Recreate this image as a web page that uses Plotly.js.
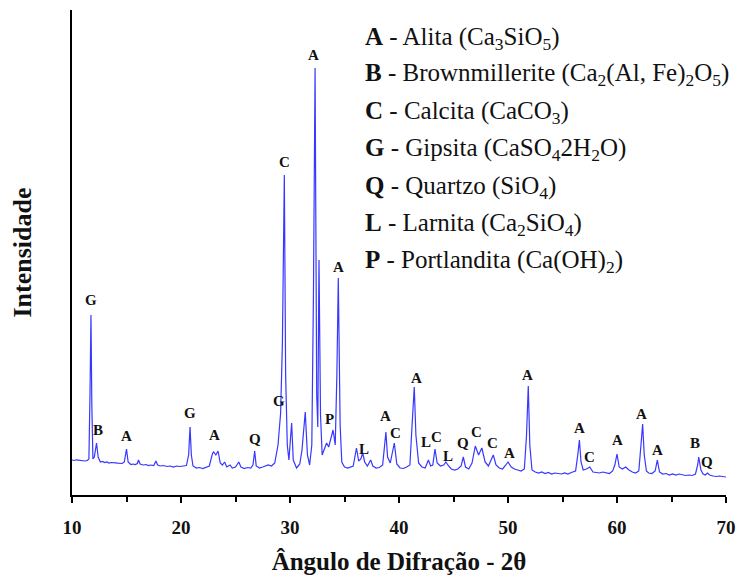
<!DOCTYPE html>
<html>
<head>
<meta charset="utf-8">
<script src="https://cdn.plot.ly/plotly-3.0.1.min.js"></script>
<style>html,body{margin:0;padding:0;background:#fff;}#chart{width:736px;height:580px;}</style>
</head>
<body>
<div id="chart"></div>
<script>
// 2θ (degrees)
const twoTheta = [
10.0,10.2,10.4,10.6,10.8,11.0,11.2,11.4,11.55,11.65,11.74,11.82,11.92,12.05,12.25,12.4,12.6,12.8,13.0,13.2,13.4,13.6,13.8,14.0,14.2,14.4,14.6,14.8,15.0,15.15,15.4,15.6,15.8,16.0,16.1,16.25,16.5,16.8,17.0,17.2,17.5,17.7,17.85,18.1,18.4,18.7,19.0,19.3,19.6,19.9,20.2,20.5,20.7,20.83,20.95,21.1,21.4,21.7,22.0,22.3,22.6,22.9,23.0,23.2,23.4,23.6,23.8,24.0,24.2,24.5,24.7,25.0,25.3,25.5,25.8,26.1,26.4,26.6,26.76,26.9,27.2,27.5,27.8,28.0,28.3,28.6,28.9,29.14,29.3,29.48,29.6,29.75,29.9,30.15,30.3,30.6,30.9,31.1,31.4,31.6,31.8,32.0,32.15,32.3,32.45,32.55,32.66,32.8,32.95,33.1,33.36,33.55,33.75,33.95,34.15,34.3,34.43,34.6,34.75,35.0,35.3,35.6,35.8,36.1,36.3,36.5,36.67,36.85,37.1,37.4,37.6,37.9,38.2,38.5,38.8,38.95,39.2,39.57,39.8,40.1,40.4,40.7,41.0,41.2,41.4,41.55,41.8,42.1,42.4,42.7,42.9,43.1,43.3,43.5,43.8,44.1,44.3,44.55,44.8,45.1,45.4,45.7,45.9,46.1,46.4,46.7,47.0,47.3,47.6,47.9,48.2,48.65,48.9,49.2,49.5,49.8,50.0,50.3,50.6,50.9,51.2,51.5,51.7,51.86,52.0,52.2,52.5,52.8,53.1,53.4,53.7,54.0,54.3,54.6,54.9,55.2,55.5,55.8,56.2,56.4,56.55,56.7,56.9,57.2,57.5,57.8,58.1,58.4,58.7,59.0,59.3,59.6,59.8,60.0,60.2,60.5,60.8,61.1,61.4,61.7,62.0,62.2,62.35,62.5,62.7,62.9,63.2,63.5,63.7,63.9,64.2,64.5,64.8,65.1,65.4,65.7,66.0,66.3,66.6,66.9,67.2,67.4,67.5,67.7,67.9,68.1,68.3,68.5,68.8,69.1,69.4,69.7,70.0
];
// Intensity (a.u.)
const intensity = [
350,345,352,348,350,345,340,345,360,1000,1800,900,360,380,520,380,330,335,325,330,320,325,320,322,318,320,315,330,460,330,305,310,305,315,350,310,300,305,295,300,295,340,300,290,295,285,290,280,290,285,290,295,400,680,400,290,270,275,265,275,290,420,430,400,440,320,300,330,280,300,270,280,330,280,265,275,270,300,440,290,270,280,290,300,290,320,500,820,1500,3200,1200,500,350,720,350,270,310,450,830,400,300,500,2000,4270,1000,680,2350,800,400,440,520,480,580,650,500,1200,2170,700,330,280,270,280,290,470,340,360,420,330,290,350,290,270,275,300,630,380,320,520,310,270,265,280,300,700,1080,600,320,280,270,350,290,300,460,320,290,300,330,290,260,250,260,290,380,280,260,320,490,400,470,330,290,400,300,270,260,300,330,280,260,250,240,260,600,1090,500,250,230,220,230,215,225,210,220,215,210,220,210,225,240,400,550,330,250,260,280,230,225,220,230,220,215,240,300,410,280,260,280,250,230,220,240,500,710,400,240,220,215,240,350,230,210,215,200,210,200,210,200,195,200,195,210,300,380,250,210,200,220,200,190,185,190,185,180
];
// Peak labels
const peakLetters = ["G","B","A","G","A","Q","G","C","A","A","P","L","A","C","A","L","C","L","Q","C","C","A","A","A","C","A","A","A","B","Q"];
const peakX = [11.74,12.41,15.02,20.83,23.06,26.79,28.99,29.48,32.2,34.43,33.62,36.83,38.76,39.72,41.56,42.48,43.46,44.47,45.84,47.13,48.6,50.18,51.81,56.54,57.46,60.03,62.27,63.73,67.16,68.23];
const peakY = [1950,650,590,820,600,560,940,3330,4400,2280,760,460,790,620,1170,533,577,390,517,633,517,417,1200,667,377,550,807,450,523,333];
// Phase legend
const phaseKeys = ["A","B","C","G","Q","L","P"];
const phaseNames = [
  "Alita (Ca<sub>3</sub>SiO<sub>5</sub>)",
  "Brownmillerite (Ca<sub>2</sub>(Al, Fe)<sub>2</sub>O<sub>5</sub>)",
  "Calcita (CaCO<sub>3</sub>)",
  "Gipsita (CaSO<sub>4</sub>2H<sub>2</sub>O)",
  "Quartzo (SiO<sub>4</sub>)",
  "Larnita (Ca<sub>2</sub>SiO<sub>4</sub>)",
  "Portlandita (Ca(OH)<sub>2</sub>)"
];
const xTicks = [10,20,30,40,50,60,70];

const serif = "Times New Roman, Liberation Serif, serif";
const annotations = [];
peakLetters.forEach((t,i)=>{
  annotations.push({x:peakX[i], y:peakY[i], xref:'x', yref:'y', text:'<b>'+t+'</b>', showarrow:false,
    font:{family:serif, size:15, color:'#111'}, xanchor:'center', yanchor:'middle'});
});
const legY = [0.942,0.866,0.788,0.713,0.633,0.558,0.482];
phaseKeys.forEach((k,i)=>{
  annotations.push({x:0.445, y:legY[i], xref:'paper', yref:'paper', text:'<b>'+k+'</b> - '+phaseNames[i],
    showarrow:false, xanchor:'left', yanchor:'middle', align:'left', font:{family:serif, size:25, color:'#111'}});
});

Plotly.newPlot('chart', [{
  x: twoTheta, y: intensity, type:'scatter', mode:'lines',
  line:{color:'rgb(55,55,255)', width:1.2}, hoverinfo:'skip'
}], {
  width:736, height:580,
  margin:{l:72, r:10, t:10, b:85},
  paper_bgcolor:'#fff', plot_bgcolor:'#fff',
  showlegend:false,
  xaxis:{
    range:[10,70], tickvals:xTicks, ticktext:xTicks.map(String),
    showline:true, linecolor:'#000', linewidth:2, mirror:false,
    ticks:'outside', ticklen:6, tickwidth:2, tickcolor:'#000',
    ticklabelstandoff:8,
    minor:{tickvals:[15,25,35,45,55,65], ticks:'outside', ticklen:5, tickwidth:2, tickcolor:'#000', showgrid:false},
    showgrid:false, zeroline:false,
    tickfont:{family:serif, size:19, color:'#111', weight:'bold'},
    title:{text:'<b>Ângulo de Difração - 2θ</b>', font:{family:serif, size:25, color:'#111'}, standoff:16}
  },
  yaxis:{
    range:[0,4850], showline:true, linecolor:'#000', linewidth:2,
    ticks:'', showticklabels:false, showgrid:false, zeroline:false,
    title:{text:'<b>Intensidade</b>', font:{family:serif, size:26, color:'#111'}, standoff:31}
  },
  annotations: annotations
}, {staticPlot:true, displayModeBar:false});
</script>
</body>
</html>
